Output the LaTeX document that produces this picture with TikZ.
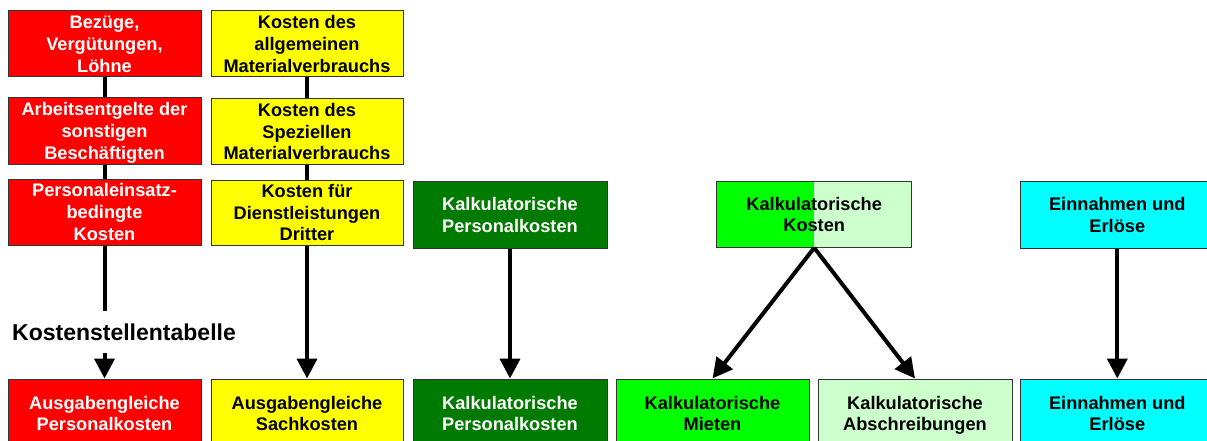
\documentclass[tikz,border=0pt]{standalone}
\usepackage{fontspec}
\setmainfont{Liberation Sans}
\usetikzlibrary{arrows.meta}
\definecolor{cRed}{HTML}{FF0000}
\definecolor{cYellow}{HTML}{FFFF00}
\definecolor{cDark}{HTML}{007A00}
\definecolor{cLime}{HTML}{00FF00}
\definecolor{cPale}{HTML}{CCFFCC}
\definecolor{cCyan}{HTML}{00FFFF}
\tikzset{
  box/.style={draw=black!80, line width=1pt, inner sep=0pt, align=center, text depth=0pt,
    font=\fontsize{18.2}{21.8}\selectfont\bfseries},
  redbox/.style={box, fill=cRed, text=white, minimum width=193pt, minimum height=66pt},
  yelbox/.style={box, fill=cYellow, minimum width=192pt, minimum height=66pt},
  lowbox/.style={minimum height=69pt},
  link/.style={line width=4pt},
  flow/.style={line width=4pt, -{Triangle[length=20pt,width=20pt]}}
}
\begin{document}
\begin{tikzpicture}[x=1pt, y=-1pt]
\useasboundingbox (0,0) rectangle (1207,441);
\clip (0,0) rectangle (1207,441);

% personnel cost sources
\node[redbox] (r1) at (104.5,44) {Bezüge,\\Vergütungen,\\Löhne};
\node[redbox] (r2) at (104.5,131) {Arbeitsentgelte der\\sonstigen\\Beschäftigten};
\node[redbox] (r3) at (104.5,212) {Personaleinsatz-\\bedingte\\Kosten};

% material cost sources
\node[yelbox] (y1) at (307,44) {Kosten des\\allgemeinen\\Materialverbrauchs};
\node[yelbox, minimum height=65pt] (y2) at (307,131.5) {Kosten des\\Speziellen\\Materialverbrauchs};
\node[yelbox, minimum height=65pt] (y3) at (307,212.5) {Kosten für\\Dienstleistungen\\Dritter};

% imputed and revenue sources
\node[box, fill=cDark, text=white, minimum width=194pt, minimum height=67pt] (g1) at (510,215.3) {Kalkulatorische\\Personalkosten};
\node[box, fill=cPale, minimum width=195pt, minimum height=65.6pt,
  path picture={\fill[cLime] (path picture bounding box.south west) rectangle (path picture bounding box.north);}] (kk) at (814.2,214.5) {Kalkulatorische\\Kosten};
\node[box, fill=cCyan, minimum width=193pt, minimum height=67pt] (c1) at (1117.3,215.3) {Einnahmen und\\Erlöse};

% label on the personnel branch
\node[font=\fontsize{23}{27}\selectfont\bfseries, inner xsep=0pt, inner ysep=12pt] (tab) at (124,332) {Kostenstellentabelle};

% target row
\node[redbox, lowbox] (rb) at (104.5,413.5) {Ausgabengleiche\\Personalkosten};
\node[yelbox, lowbox] (yb) at (307,413.5) {Ausgabengleiche\\Sachkosten};
\node[box, lowbox, fill=cDark, text=white, minimum width=194pt] (gb) at (510,413.5) {Kalkulatorische\\Personalkosten};
\node[box, lowbox, fill=cLime, minimum width=193pt] (mi) at (712.5,413.5) {Kalkulatorische\\Mieten};
\node[box, lowbox, fill=cPale, minimum width=194pt] (ab) at (915,413.5) {Kalkulatorische\\Abschreibungen};
\node[box, lowbox, fill=cCyan, minimum width=193pt] (cb) at (1117.3,413.5) {Einnahmen und\\Erlöse};

% connectors
\draw[link] (r1.south) -- (r2.north);
\draw[link] (r2.south) -- (r3.north);
\draw[link] (r3.south) -- (r3.south |- tab.north);
\draw[flow] (rb.north |- tab.south) -- (rb.north);

\draw[link] (y1.south) -- (y2.north);
\draw[link] (y2.south) -- (y3.north);
\draw[flow] (y3.south) -- (yb.north);

\draw[flow] (g1.south) -- (gb.north);
\draw[flow] (kk.south) -- (mi.north);
\draw[flow] (kk.south) -- (ab.north);
\draw[flow] (c1.south) -- (cb.north);
\end{tikzpicture}
\end{document}
